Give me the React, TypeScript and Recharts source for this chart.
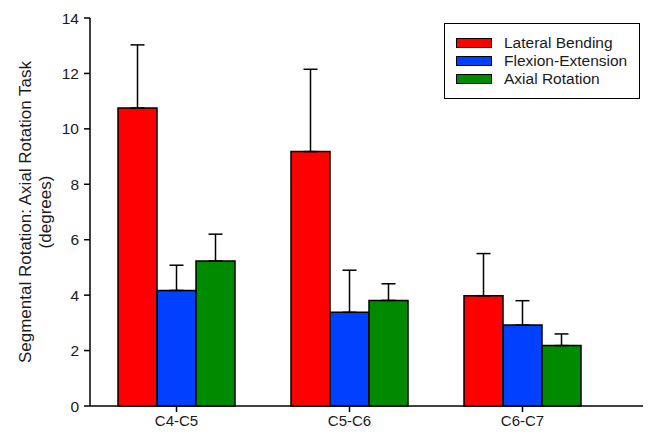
import React from 'react';
import { BarChart, Bar, XAxis, YAxis, ErrorBar, Legend } from 'recharts';

const categories = ['C4-C5', 'C5-C6', 'C6-C7'];
const lateralBending = [10.75, 9.18, 3.98];
const lateralBendingErr = [2.28, 2.97, 1.52];
const flexionExtension = [4.17, 3.38, 2.92];
const flexionExtensionErr = [0.91, 1.52, 0.88];
const axialRotation = [5.23, 3.81, 2.18];
const axialRotationErr = [0.97, 0.6, 0.42];
const yTicks = [0, 2, 4, 6, 8, 10, 12, 14];

const seriesNames = ['Lateral Bending', 'Flexion-Extension', 'Axial Rotation'];
const seriesColors = ['#ff0000', '#0040ff', '#008a00'];

const data = categories.map((name, i) => ({
  name,
  lb: lateralBending[i],
  lbErr: [0, lateralBendingErr[i]],
  fe: flexionExtension[i],
  feErr: [0, flexionExtensionErr[i]],
  ar: axialRotation[i],
  arErr: [0, axialRotationErr[i]],
}));

const FONT = '"Liberation Sans", Arial, sans-serif';
const TEXT = '#1a1a1a';

const YLabel = (props: any) => {
  const vb = props.viewBox || { x: 0, y: 18, width: 90, height: 388 };
  const cy = vb.y + vb.height / 2;
  return (
    <g>
      <text
        x={25}
        y={cy}
        transform={`rotate(-90, 25, ${cy})`}
        textAnchor="middle"
        dominantBaseline="central"
        fontFamily={FONT}
        fontSize={17}
        fill={TEXT}
      >
        Segmental Rotation: Axial Rotation Task
      </text>
      <text
        x={45}
        y={cy}
        transform={`rotate(-90, 45, ${cy})`}
        textAnchor="middle"
        dominantBaseline="central"
        fontFamily={FONT}
        fontSize={17}
        fill={TEXT}
      >
        (degrees)
      </text>
    </g>
  );
};

const LegendBox = () => (
  <div
    style={{
      width: 196,
      height: 76,
      boxSizing: 'border-box',
      border: '1.5px solid #000',
      background: '#fff',
      padding: '10px 0 0 11px',
      fontFamily: FONT,
      fontSize: 15.5,
      color: TEXT,
    }}
  >
    {seriesNames.map((n, i) => (
      <div key={n} style={{ display: 'flex', alignItems: 'center', height: 18 }}>
        <div
          style={{
            width: 34,
            height: 8,
            background: seriesColors[i],
            border: '1.5px solid #000',
            marginRight: 12,
          }}
        />
        <span style={{ lineHeight: '18px' }}>{n}</span>
      </div>
    ))}
  </div>
);

export default function App() {
  return (
    <div style={{ position: 'absolute', left: 0, top: 0, width: 655, height: 435, background: '#fff' }}>
      <BarChart
        width={655}
        height={435}
        data={data}
        margin={{ top: 18, right: 12, left: 0, bottom: 0 }}
        barGap={0}
        barSize={39}
      >
        <XAxis
          dataKey="name"
          height={29}
          padding={{ left: 0, right: 34 }}
          tickSize={6}
          tickMargin={3}
          axisLine={{ stroke: '#000', strokeWidth: 1.5 }}
          tickLine={{ stroke: '#000', strokeWidth: 1.5 }}
          tick={{ fontFamily: FONT, fontSize: 15, fill: TEXT }}
        />
        <XAxis
          xAxisId="top"
          dataKey="name"
          orientation="top"
          height={0}
          tick={false}
          tickLine={false}
          axisLine={{ stroke: '#000', strokeWidth: 1.5 }}
        />
        <YAxis
          width={90}
          domain={[0, 14]}
          ticks={yTicks}
          interval={0}
          tickSize={6}
          tickMargin={5}
          axisLine={{ stroke: '#000', strokeWidth: 1.5 }}
          tickLine={{ stroke: '#000', strokeWidth: 1.5 }}
          tick={{ fontFamily: FONT, fontSize: 15.5, fill: TEXT }}
          label={{ content: (p: any) => <YLabel {...p} /> }}
        />
        <YAxis
          yAxisId="right"
          orientation="right"
          width={0}
          domain={[0, 14]}
          tick={false}
          tickLine={false}
          axisLine={{ stroke: '#000', strokeWidth: 1.5 }}
        />
        <Legend
          layout="vertical"
          align="center"
          verticalAlign="middle"
          wrapperStyle={{ position: 'absolute', left: 444, top: 23, width: 196, height: 76 }}
          content={() => <LegendBox />}
        />
        <Bar dataKey="lb" name={seriesNames[0]} fill={seriesColors[0]} stroke="#000" strokeWidth={1.5} isAnimationActive={false}>
          <ErrorBar dataKey="lbErr" direction="y" width={7} stroke="#000" strokeWidth={1.5} isAnimationActive={false} />
        </Bar>
        <Bar dataKey="fe" name={seriesNames[1]} fill={seriesColors[1]} stroke="#000" strokeWidth={1.5} isAnimationActive={false}>
          <ErrorBar dataKey="feErr" direction="y" width={7} stroke="#000" strokeWidth={1.5} isAnimationActive={false} />
        </Bar>
        <Bar dataKey="ar" name={seriesNames[2]} fill={seriesColors[2]} stroke="#000" strokeWidth={1.5} isAnimationActive={false}>
          <ErrorBar dataKey="arErr" direction="y" width={7} stroke="#000" strokeWidth={1.5} isAnimationActive={false} />
        </Bar>
      </BarChart>
    </div>
  );
}
